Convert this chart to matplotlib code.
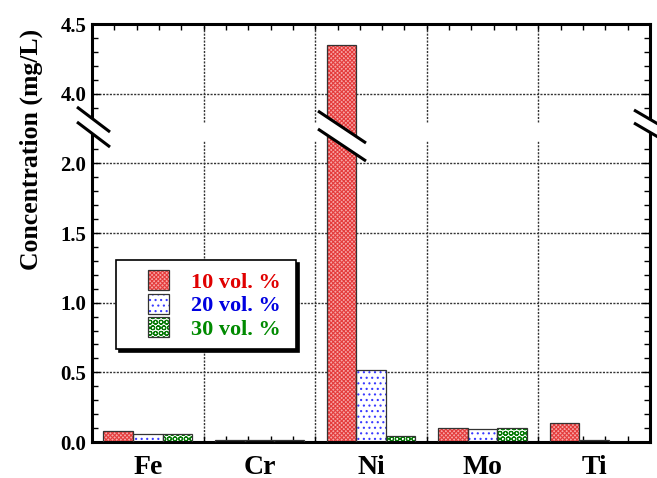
import numpy as np
import matplotlib
matplotlib.use("Agg")
import matplotlib.pyplot as plt
from matplotlib.patches import Rectangle, Polygon, Patch
from matplotlib.lines import Line2D
from matplotlib.legend_handler import HandlerTuple
from matplotlib.ticker import FixedLocator, FixedFormatter, NullFormatter
import matplotlib.transforms as mtransforms

# ---------------- data ----------------
elements = ['Fe', 'Cr', 'Ni', 'Mo', 'Ti']
series_labels = ['10 vol. %', '20 vol. %', '30 vol. %']
conc_10 = [0.080, 0.015, 4.35, 0.098, 0.135]
conc_20 = [0.057, 0.012, 0.52, 0.095, 0.012]
conc_30 = [0.057, 0.012, 0.045, 0.098, 0.0]
ytick_values = [0.0, 0.5, 1.0, 1.5, 2.0, 4.0, 4.5]
ytick_labels = ['0.0', '0.5', '1.0', '1.5', '2.0', '4.0', '4.5']

# ---------------- style ----------------
plt.rcParams['font.family'] = ['Liberation Serif', 'DejaVu Serif']
plt.rcParams['font.weight'] = 'bold'
plt.rcParams['hatch.linewidth'] = 0.8

W, H = 657, 478
fig = plt.figure(figsize=(W / 100, H / 100), dpi=100)
L, R, T, B = 92, 650, 24, 442
ax = fig.add_axes([L / W, (H - B) / H, (R - L) / W, (B - T) / H])

# broken y axis through a function scale (2.25 .. 3.75 squeezed out)
def fwd(v):
    return np.interp(v, [-10, 2.25, 3.75, 20], [-10, 2.25, 2.2501, 18.5001])

def inv(u):
    return np.interp(u, [-10, 2.25, 2.2501, 18.5001], [-10, 2.25, 3.75, 20])

ax.set_yscale('function', functions=(fwd, inv))
ax.set_ylim(0, 4.5)
ax.set_xlim(0, len(elements))

# series styles: (face, hatch colour, hatch)
styles = [
    ('#f7a6a6', '#e43c3c', 'x' * 8),
    ('white', '#3a3aff', '...'),
    ('white', '#067a06', 'OOO'),
]
series = [conc_10, conc_20, conc_30]
width = 0.265
offsets = [-width, 0.0, width]
xc = np.arange(len(elements)) + 0.5

handles = []
for vals, off, (fc, hc, hatch) in zip(series, offsets, styles):
    ax.bar(xc + off, vals, width=width, color=fc, edgecolor=hc, hatch=hatch,
           linewidth=0, zorder=2)
    ax.bar(xc + off, vals, width=width, facecolor='none', edgecolor='#333333',
           linewidth=0.9, zorder=3)
    handles.append((Patch(facecolor=fc, edgecolor=hc, hatch=hatch, linewidth=0),
                    Patch(facecolor='none', edgecolor='#333333', linewidth=0.9)))

# grid
grid_kw = dict(color='#333333', linewidth=1.0, linestyle=(0, (1.5, 1.0)), zorder=1)
for yv in [0.5, 1.0, 1.5, 2.0, 4.0]:
    ax.axhline(yv, **grid_kw)
for xv in range(1, len(elements)):
    ax.plot([xv, xv], [0, 2.17], **grid_kw)
    ax.plot([xv, xv], [3.80, 4.5], **grid_kw)

# ticks
ax.yaxis.set_major_locator(FixedLocator(ytick_values))
ax.yaxis.set_major_formatter(FixedFormatter(ytick_labels))
minor_y = [round(v, 1) for v in np.arange(0.1, 2.15, 0.1) if abs(v * 2 - round(v * 2)) > 1e-6]
minor_y += [3.9, 4.1, 4.2, 4.3, 4.4]
ax.yaxis.set_minor_locator(FixedLocator(minor_y))
ax.yaxis.set_minor_formatter(NullFormatter())

ax.set_xticks(xc)
ax.set_xticklabels(elements)
ax.xaxis.set_minor_locator(FixedLocator([round(v, 1) for v in np.arange(0.2, 5.0, 0.2)]))

ax.tick_params(axis='x', which='major', length=0, pad=9, labelsize=20)
ax.tick_params(axis='x', which='minor', direction='in', length=4, width=1.0,
               top=True, bottom=True)
ax.tick_params(axis='y', which='major', direction='in', length=6, width=1.0,
               left=True, right=True, labelsize=15, pad=4)
ax.tick_params(axis='y', which='minor', direction='in', length=4, width=1.0,
               left=True, right=True)
for sp in ax.spines.values():
    sp.set_linewidth(2.2)

ax.set_ylabel('Concentration (mg/L)', fontsize=18.5, fontweight='bold')
ax.yaxis.set_label_coords(-0.088, 0.70)

# ---------------- legend ----------------
def px2ax(px, py):
    return ((px - L) / (R - L), (B - py) / (B - T))

lx0, ly0 = px2ax(116, 349)
lx1, ly1 = px2ax(296, 260)
shadow_tr = mtransforms.offset_copy(ax.transAxes, fig=fig, x=3, y=-3, units='dots')
ax.add_patch(Rectangle((lx0, ly0), lx1 - lx0, ly1 - ly0, transform=shadow_tr,
                       facecolor='black', edgecolor='black', linewidth=1.2, zorder=5))
ax.add_patch(Rectangle((lx0, ly0), lx1 - lx0, ly1 - ly0, transform=ax.transAxes,
                       facecolor='white', edgecolor='black', linewidth=1.2, zorder=5.1))
leg = ax.legend(handles, series_labels, handler_map={tuple: HandlerTuple(ndivide=1)},
                loc='upper left', bbox_to_anchor=px2ax(148, 270), frameon=False,
                borderpad=0, borderaxespad=0, fontsize=16, handlelength=0.95,
                handleheight=1.0, handletextpad=1.0, labelspacing=0.05)
leg.set_zorder(6)
for t, c in zip(leg.get_texts(), ['#e00000', '#0000e0', '#008a00']):
    t.set_color(c)
    t.set_fontweight('bold')

# ---------------- break marks ----------------
def add_break(p1a, p1b, p2a, p2b):
    pts = [px2ax(*p1a), px2ax(*p1b), px2ax(*p2b), px2ax(*p2a)]
    ax.add_patch(Polygon(pts, closed=True, transform=ax.transAxes, facecolor='white',
                         edgecolor='none', clip_on=False, zorder=7))
    for a, b in [(p1a, p1b), (p2a, p2b)]:
        pa, pb = px2ax(*a), px2ax(*b)
        ax.add_line(Line2D([pa[0], pb[0]], [pa[1], pb[1]], transform=ax.transAxes,
                           color='black', linewidth=2.2, clip_on=False, zorder=8,
                           solid_capstyle='butt'))

add_break((77, 107), (110, 132), (77, 122), (110, 147))
add_break((318, 111), (366, 143), (318, 129), (366, 161))
add_break((634, 110), (664, 127.5), (634, 123), (664, 140.5))

fig.savefig('out.png', dpi=100)
